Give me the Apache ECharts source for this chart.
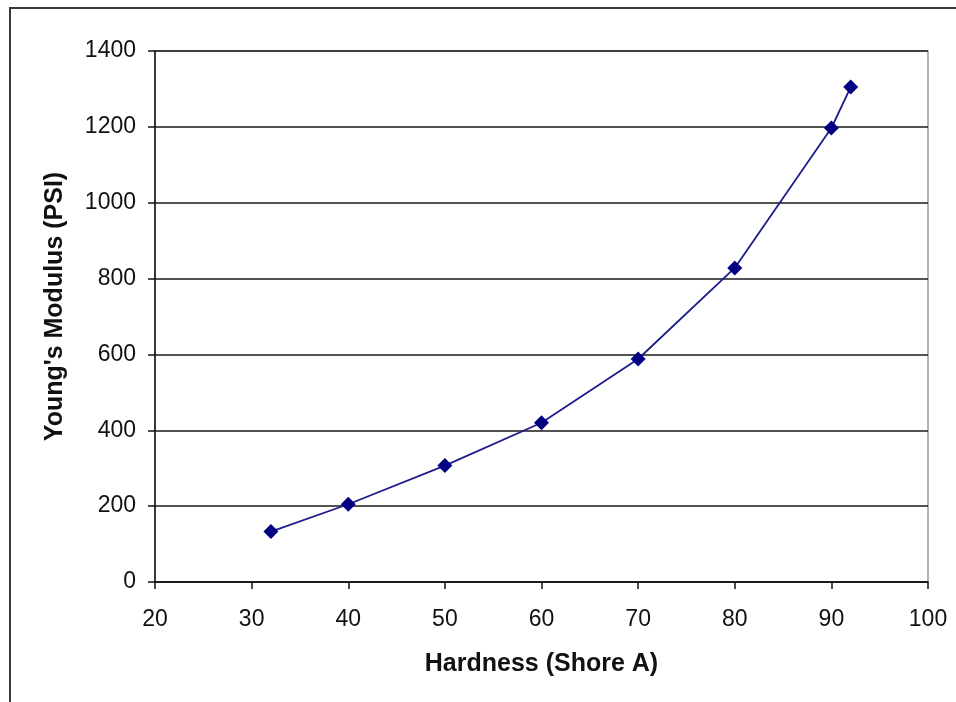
<!DOCTYPE html>
<html>
<head>
<meta charset="utf-8">
<script src="https://cdn.jsdelivr.net/npm/echarts@6/dist/echarts.min.js"></script>
<style>
  html, body { margin: 0; padding: 0; background: #fff; }
  #chart { width: 956px; height: 702px; }
</style>
</head>
<body>
<div id="chart"></div>
<script>
// Shore A hardness vs. Young's modulus
const hardness = [32, 40, 50, 60, 70, 80, 90, 92];
const modulus = [133, 205, 307, 420, 588, 828, 1197, 1305];
const xTicks = [20, 30, 40, 50, 60, 70, 80, 90, 100];
const yTicks = [0, 200, 400, 600, 800, 1000, 1200, 1400];

const FONT = '"Liberation Sans", Arial, sans-serif';
const chart = echarts.init(document.getElementById('chart'), null, { renderer: 'canvas' });

chart.setOption({
  backgroundColor: '#ffffff',
  animation: false,
  graphic: [{
    type: 'rect',
    shape: { x: 10, y: 8, width: 1000, height: 800 },
    style: { fill: 'none', stroke: '#3a3a3a', lineWidth: 2 },
    silent: true,
    z: 0
  }],
  grid: {
    left: 155, top: 51, right: 28, bottom: 120,
    show: true, borderColor: '#9a9a9a', borderWidth: 1.5,
    backgroundColor: 'transparent'
  },
  xAxis: {
    type: 'value',
    min: xTicks[0], max: xTicks[xTicks.length - 1], interval: 10,
    name: 'Hardness (Shore A)',
    nameLocation: 'middle', nameGap: 70,
    nameTextStyle: { fontFamily: FONT, fontSize: 25, fontWeight: 'bold', color: '#111' },
    axisLine: { show: true, lineStyle: { color: '#111', width: 1.5 } },
    axisTick: { show: true, inside: false, length: 7, lineStyle: { color: '#111', width: 1.5 } },
    axisLabel: { fontFamily: FONT, fontSize: 23, color: '#111', margin: 26,
                 formatter: v => String(v) },
    splitLine: { show: false }
  },
  yAxis: {
    type: 'value',
    min: yTicks[0], max: yTicks[yTicks.length - 1], interval: 200,
    name: "Young's Modulus (PSI)",
    nameLocation: 'middle', nameGap: 87, nameRotate: 90,
    nameTextStyle: { fontFamily: FONT, fontSize: 25, fontWeight: 'bold', color: '#111',
                     padding: [0, 0, 0, 20] },
    axisLine: { show: true, lineStyle: { color: '#111', width: 1.5 } },
    axisTick: { show: true, inside: false, length: 7, lineStyle: { color: '#111', width: 1.5 } },
    axisLabel: { fontFamily: FONT, fontSize: 23, color: '#111', margin: 19,
                 formatter: v => String(v) },
    splitLine: { show: true, lineStyle: { color: '#1a1a1a', width: 1.6 } }
  },
  series: [{
    type: 'line',
    data: hardness.map((h, i) => [h, modulus[i]]),
    symbol: 'diamond',
    symbolSize: 15,
    showAllSymbol: true,
    lineStyle: { color: '#1c1c8c', width: 1.8 },
    itemStyle: { color: '#000080', borderColor: '#000080', borderWidth: 0 },
    z: 5
  }]
});
</script>
</body>
</html>
